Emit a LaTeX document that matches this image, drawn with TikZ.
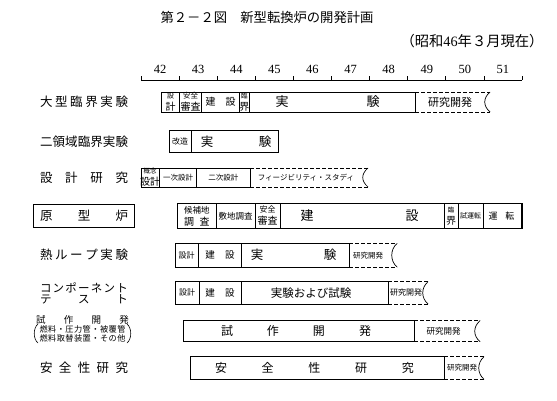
\documentclass[tikz,border=0pt]{standalone}
\usepackage{fontspec}
\setmainfont{Liberation Serif}
\newfontfamily\jp{Noto Sans CJK JP}
\newcommand\fz[2]{\fontsize{#1pt}{#2pt}\selectfont}
\newcommand\spr[2]{\makebox[#1pt][s]{#2}}
\tikzset{
  bar/.style={draw, line width=0.7pt},
  dsh/.style={draw, line width=0.7pt, dash pattern=on 4pt off 2pt},
  endcurve/.style={draw, line width=0.7pt},
  thickframe/.style={draw, line width=1.5pt},
  txt/.style={inner sep=0pt, align=center, font=\jp},
  num/.style={inner sep=0pt, font=\fz{12.5}{13}},
  lbl/.style={inner sep=0pt, font={\jp\fz{12.5}{13}}},
  axisline/.style={line width=0.7pt},
}
% segment: x1 x2 y1 y2 name textx text
\newcommand\gseg[7]{%
  \draw[bar] (#1,#3) rectangle (#2,#4);
  \node[txt] (#5) at (#6,{(#3+#4)/2}) {#7};}
% dashed open end: x1 x2 y1 y2 name textx text
\newcommand\dend[7]{%
  \draw[dsh] (#1,#3) -- (#2,#3);
  \draw[dsh] (#1,#4) -- (#2,#4);
  \draw[endcurve] (#2,#3) .. controls ({#2-7},{#3+6}) and ({#2-7},{#4-6}) .. (#2,#4);
  \node[txt] (#5) at (#6,{(#3+#4)/2}) {#7};}
\begin{document}
\begin{tikzpicture}[x=1pt,y=-1pt]
\useasboundingbox (0,0) rectangle (557,401);
\fill[white] (0,0) rectangle (557,401);

% title
\node[txt, font={\jp\fz{13.3}{14}}] (title) at (267,17) {第２－２図　新型転換炉の開発計画};
\node[txt, font={\jp\fz{14.3}{15}}] (sub) at (472,41) {（昭和{\rmfamily 46}年３月現在）};

% axis
\coordinate (ax0) at (141,80);
\coordinate (ax1) at (522,80);
\draw[axisline] (ax0) -- (ax1);
\foreach \k in {0,...,10}{\draw[axisline] ({141+38.1*\k},80) -- ++(0,-4);}
\foreach \yr [count=\i from 0] in {42,...,51}{\node[num] (y\yr) at ({160.05+38.1*\i},69) {\yr};}

% row labels
\node[lbl] (l1) at (84,102) {\spr{88}{大\hfill 型\hfill 臨\hfill 界\hfill 実\hfill 験}};
\node[lbl] (l2) at (84,141.5) {\spr{88}{二\hfill 領\hfill 域\hfill 臨\hfill 界\hfill 実\hfill 験}};
\node[lbl] (l3) at (84,178) {\spr{88}{設\hfill 計\hfill 研\hfill 究}};
\draw[line width=1pt] (33,204) rectangle (134,227.5);
\node[lbl] (l4) at (84,216) {\spr{88}{原\hfill 型\hfill 炉}};
\node[lbl] (l5) at (84,254.5) {\spr{88}{熱\hfill ル\hfill ー\hfill プ\hfill 実\hfill 験}};
\node[lbl, font={\jp\fz{11.5}{12}}] (l6a) at (84,287.5) {\spr{88}{コ\hfill ン\hfill ポ\hfill ー\hfill ネ\hfill ン\hfill ト}};
\node[lbl, font={\jp\fz{11.5}{12}}] (l6b) at (84,299.5) {\spr{88}{テ\hfill ス\hfill ト}};
\node[lbl, font={\jp\fz{9.5}{10}}] (l7a) at (82.5,320) {\spr{93}{試\hfill 作\hfill 開\hfill 発}};
\node[lbl, font={\jp\fz{8.2}{9}}] (l7b) at (82.5,329.5) {\spr{86}{燃\hfill 料\hfill ・\hfill 圧\hfill 力\hfill 管\hfill ・\hfill 被\hfill 覆\hfill 管}};
\node[lbl, font={\jp\fz{8.2}{9}}] (l7c) at (82.5,338.5) {\spr{86}{燃\hfill 料\hfill 取\hfill 替\hfill 装\hfill 置\hfill ・\hfill そ\hfill の\hfill 他}};
\draw[line width=0.6pt] (38,324) .. controls (33,328) and (33,339) .. (38,343);
\draw[line width=0.6pt] (127,324) .. controls (132,328) and (132,339) .. (127,343);
\node[lbl] (l8) at (84,368) {\spr{88}{安\hfill 全\hfill 性\hfill 研\hfill 究}};

% row 1
\gseg{161.7}{179.3}{92}{112}{r1a}{170.5}{\fz{7}{8}設\\計}
\gseg{179.3}{201.7}{92}{112}{r1b}{190.5}{\fz{7.5}{8.5}安全\\審査}
\gseg{201.7}{239.3}{92}{112}{r1c}{220.5}{\fz{10}{11}\spr{30}{建\hfill 設}}
\gseg{239.3}{249.3}{92}{112}{r1d}{244.3}{\fz{6.5}{7.5}臨\\界}
\gseg{249.3}{415}{92}{112}{r1e}{327.5}{\fz{13}{14}\spr{104}{実\hfill 験}}
\dend{415}{490}{92}{112}{r1f}{450}{\fz{11}{12}研究開発}

% row 2
\gseg{169}{191}{130.5}{152.5}{r2a}{180}{\fz{8}{9}改造}
\gseg{191}{278.5}{130.5}{152.5}{r2b}{236}{\fz{12.5}{13}\spr{70.5}{実\hfill 験}}

% row 3
\gseg{141}{159.3}{168}{187}{r3a}{150.15}{\fz{6.5}{7.5}概念\\設計}
\gseg{159.3}{196.7}{168}{187}{r3b}{178}{\fz{7.5}{8}一次設計}
\gseg{196.7}{250}{168}{187}{r3c}{223.35}{\fz{7.5}{8}二次設計}
\dend{250}{368}{168}{187}{r3d}{306}{\fz{7.5}{8}フィージビリティ・スタディ}

% row 4 (prototype reactor)
\gseg{177.7}{216}{203.5}{228.5}{r4a}{196.85}{\fz{8.5}{9.5}候補地\\\spr{25.5}{調\hfill 査}}
\gseg{216}{255}{203.5}{228.5}{r4b}{235.5}{\fz{8.5}{9}敷地調査}
\gseg{255}{280}{203.5}{228.5}{r4c}{267.5}{\fz{8}{9}安全\\審査}
\gseg{280}{444}{203.5}{228.5}{r4d}{359.5}{\fz{13}{14}\spr{118}{建\hfill 設}}
\gseg{444}{458}{203.5}{228.5}{r4e}{451}{\fz{6.5}{7.5}臨\\界}
\gseg{458}{483}{203.5}{228.5}{r4f}{470.5}{\fz{7}{8}試運転}
\gseg{483}{522}{203.5}{228.5}{r4g}{501.5}{\fz{9}{10}\spr{26}{運\hfill 転}}
\draw[thickframe] (177.7,203.5) rectangle (522,228.5);

% row 5
\gseg{175}{198.3}{243.5}{267}{r5a}{186.6}{\fz{8}{9}設計}
\gseg{198.3}{241.7}{243.5}{267}{r5b}{220}{\fz{9.5}{10}\spr{29.5}{建\hfill 設}}
\gseg{241.7}{349}{243.5}{267}{r5c}{293.5}{\fz{12.5}{13}\spr{85.5}{実\hfill 験}}
\dend{349}{397}{243.5}{267}{r5d}{368}{\fz{7.5}{8}研究開発}

% row 6
\gseg{175}{199}{281.7}{304}{r6a}{187}{\fz{8}{9}設計}
\gseg{199}{241}{281.7}{304}{r6b}{220}{\fz{9.5}{10}\spr{29.5}{建\hfill 設}}
\gseg{241}{388}{281.7}{304}{r6c}{311}{\fz{11.5}{12}実験および試験}
\dend{388}{428}{281.7}{304}{r6d}{406}{\fz{8}{9}研究開発}

% row 7
\gseg{183}{414}{320.7}{341.7}{r7a}{296}{\fz{12}{13}\spr{150}{試\hfill 作\hfill 開\hfill 発}}
\dend{414}{480}{320.7}{341.7}{r7b}{443.5}{\fz{8.5}{9}研究開発}

% row 8
\gseg{190}{444}{356.7}{379.3}{r8a}{314.5}{\fz{12}{13}\spr{199}{安\hfill 全\hfill 性\hfill 研\hfill 究}}
\dend{444}{484}{356.7}{379.3}{r8b}{462}{\fz{7.5}{8}研究開発}
\end{tikzpicture}
\end{document}
